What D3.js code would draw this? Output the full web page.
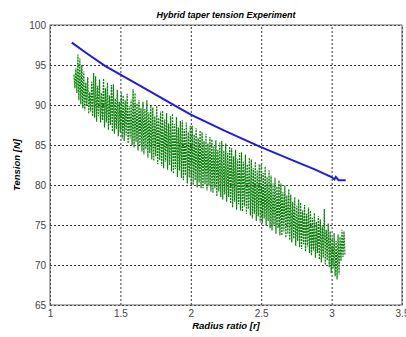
<!DOCTYPE html>
<html>
<head>
<meta charset="utf-8">
<script src="https://cdn.jsdelivr.net/npm/d3@7"></script>
<style>
  html, body { margin: 0; padding: 0; background: #fff; }
  svg { display: block; font-family: Arial, "Liberation Sans", sans-serif; }
</style>
</head>
<body>
<div id="chart"></div>
<script>
const xTicks = [1, 1.5, 2, 2.5, 3, 3.5];
const yTicks = [65, 70, 75, 80, 85, 90, 95, 100];

// reference curve (blue)
const refRadius = [1.155, 1.25, 1.39, 1.5, 1.61, 1.71, 1.89, 2.0, 2.25, 2.49, 2.75, 2.88, 3.0, 3.02, 3.03, 3.05, 3.1];
const refTension = [97.8, 96.6, 94.9, 93.8, 92.7, 91.7, 89.9, 88.8, 86.7, 84.8, 82.9, 81.95, 81.0, 80.7, 81.0, 80.6, 80.6];

// measured tension (green), sampled every 0.007 of radius ratio from 1.17
const measStart = 1.17;
const measStep = 0.007;
const measTension = [
  93.8, 92.1, 94.6, 91.5, 96.3, 90.6, 95.8, 90.1, 95.0, 89.6,
  94.2, 89.3, 92.8, 90.0, 93.5, 88.9, 91.6, 89.2, 92.9, 88.6,
  94.0, 88.4, 93.6, 87.9, 92.4, 88.6, 93.2, 87.8, 91.5, 88.1,
  93.3, 87.2, 92.1, 87.8, 92.8, 86.9, 91.2, 87.5, 92.5, 86.7,
  92.6, 86.4, 90.8, 87.0, 91.9, 86.1, 90.4, 86.6, 91.5, 85.8,
  91.2, 85.5, 90.6, 86.2, 91.4, 85.2, 89.9, 85.8, 90.7, 85.0,
  92.0, 84.7, 91.5, 85.4, 90.2, 84.3, 90.6, 85.0, 89.6, 84.2,
  90.4, 83.8, 89.5, 84.5, 90.6, 83.4, 89.1, 84.0, 89.9, 83.2,
  89.7, 83.0, 88.6, 83.6, 89.9, 82.6, 88.4, 83.1, 89.2, 82.4,
  89.3, 82.1, 88.2, 82.9, 89.0, 81.9, 87.7, 82.5, 88.6, 81.7,
  88.9, 81.4, 87.6, 82.0, 88.5, 81.0, 87.2, 81.8, 88.0, 80.9,
  88.1, 80.6, 87.0, 81.2, 87.8, 80.2, 86.6, 80.9, 87.4, 80.1,
  87.4, 80.0, 86.3, 80.6, 87.1, 79.7, 85.9, 80.3, 86.8, 79.6,
  86.6, 79.6, 85.5, 80.1, 86.4, 79.3, 85.2, 79.9, 86.0, 79.2,
  85.7, 79.0, 84.8, 79.6, 85.6, 78.6, 84.4, 79.2, 85.3, 78.5,
  85.5, 78.2, 84.3, 78.8, 85.2, 77.9, 84.0, 78.5, 84.8, 77.7,
  84.6, 77.2, 83.6, 77.9, 84.4, 76.9, 83.2, 77.6, 84.0, 76.8,
  84.1, 76.7, 82.9, 77.3, 83.8, 76.4, 82.6, 77.0, 83.4, 76.2,
  83.2, 75.8, 82.1, 76.4, 82.9, 75.5, 81.8, 76.1, 82.6, 75.3,
  82.6, 75.2, 81.5, 75.8, 82.3, 74.9, 81.0, 75.5, 81.8, 74.6,
  81.2, 74.3, 80.2, 74.9, 80.9, 73.9, 79.8, 74.6, 80.6, 73.7,
  80.2, 73.7, 79.1, 74.2, 79.9, 73.4, 78.7, 73.9, 79.5, 73.1,
  78.8, 72.8, 77.9, 73.3, 78.5, 72.4, 77.4, 73.0, 78.2, 72.2,
  77.8, 72.0, 76.8, 72.6, 77.5, 71.7, 76.4, 72.3, 77.2, 71.5,
  76.8, 71.2, 75.9, 71.8, 76.5, 70.9, 75.4, 71.5, 76.1, 70.7,
  75.7, 70.3, 74.8, 70.9, 77.0, 70.0, 74.4, 70.6, 75.2, 69.7,
  74.2, 69.0, 73.4, 69.6, 74.0, 68.6, 73.0, 68.2, 73.8, 68.8,
  73.5, 70.5, 74.4, 71.0, 74.2, 71.2
];

const width = 406, height = 337;
const margin = { top: 25, right: 4, bottom: 32, left: 50 };
const innerW = width - margin.left - margin.right;
const innerH = height - margin.top - margin.bottom;

const svg = d3.select('#chart').append('svg')
  .attr('width', width)
  .attr('height', height);

const g = svg.append('g')
  .attr('transform', `translate(${margin.left},${margin.top})`);

const x = d3.scaleLinear().domain([1, 3.5]).range([0, innerW]);
const y = d3.scaleLinear().domain([65, 100]).range([innerH, 0]);

// grid + tick labels
const xAxis = g.append('g')
  .attr('transform', `translate(0,${innerH})`)
  .call(d3.axisBottom(x).tickValues(xTicks).tickFormat(d3.format('')).tickSize(-innerH).tickPadding(5));
const yAxis = g.append('g')
  .call(d3.axisLeft(y).tickValues(yTicks).tickSize(-innerW).tickPadding(4));

[xAxis, yAxis].forEach(a => {
  a.select('.domain').remove();
  a.selectAll('line')
    .attr('stroke', '#333')
    .attr('stroke-width', 1)
    .attr('stroke-dasharray', '2,2');
  a.selectAll('text')
    .attr('fill', '#444')
    .style('font-size', '10px');
});

// measured data
const measPts = measTension.map((t, i) => [measStart + i * measStep, t]);
g.append('path')
  .datum(measPts)
  .attr('fill', 'none')
  .attr('stroke', '#087f08')
  .attr('stroke-width', 1.2)
  .attr('stroke-dasharray', '2,1')
  .attr('d', d3.line().x(d => x(d[0])).y(d => y(d[1])));

// reference curve
g.append('path')
  .datum(refRadius.map((r, i) => [r, refTension[i]]))
  .attr('fill', 'none')
  .attr('stroke', '#1c1ce6')
  .attr('stroke-width', 2)
  .attr('d', d3.line().x(d => x(d[0])).y(d => y(d[1])));

// frame
g.append('rect')
  .attr('width', innerW)
  .attr('height', innerH)
  .attr('fill', 'none')
  .attr('stroke', '#666')
  .attr('stroke-width', 1);

// titles
svg.append('text')
  .attr('x', margin.left + innerW / 2)
  .attr('y', 18)
  .attr('text-anchor', 'middle')
  .style('font-size', '9px')
  .style('font-weight', 'bold')
  .style('font-style', 'italic')
  .text('Hybrid taper tension Experiment');

svg.append('text')
  .attr('x', margin.left + innerW / 2)
  .attr('y', 329)
  .attr('text-anchor', 'middle')
  .style('font-size', '9.5px')
  .style('font-weight', 'bold')
  .style('font-style', 'italic')
  .text('Radius ratio [r]');

svg.append('text')
  .attr('transform', `translate(20,${margin.top + innerH / 2}) rotate(-90)`)
  .attr('text-anchor', 'middle')
  .style('font-size', '9.5px')
  .style('font-weight', 'bold')
  .style('font-style', 'italic')
  .text('Tension [N]');
</script>
</body>
</html>
